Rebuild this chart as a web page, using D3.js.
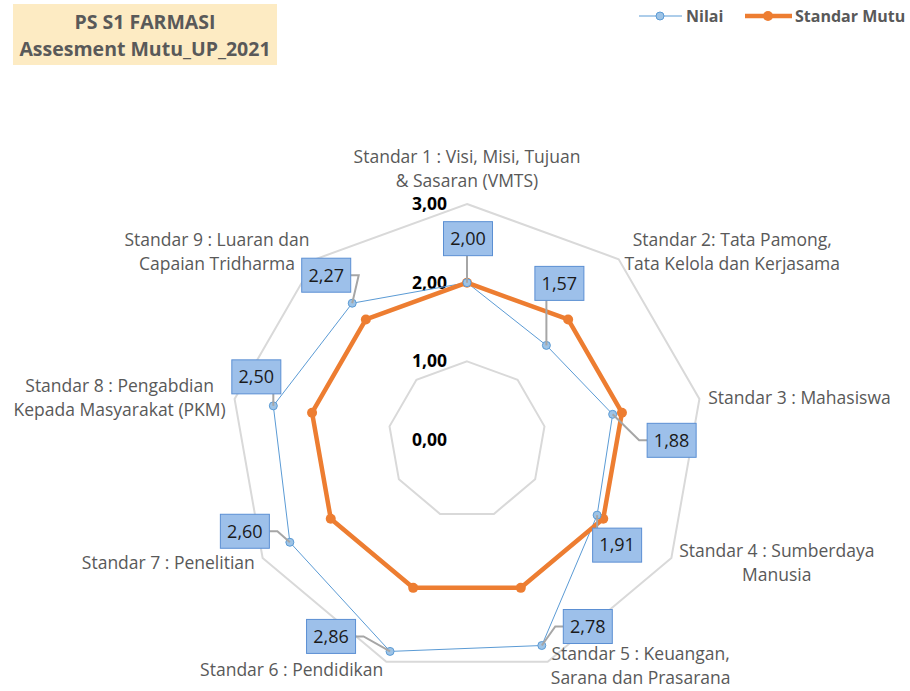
<!doctype html>
<html>
  <head>
    <meta charset="utf-8" />
    <title>PS S1 FARMASI radar</title>
    <script type="text/javascript" src="https://cdnjs.cloudflare.com/ajax/libs/d3/7.8.5/d3.min.js"></script>
    <style>
      body { margin:0; background:#fff; font-family:"Open Sans", sans-serif; }
      svg { display:block; }
    </style>
  </head>
  <body>
    <div id="chart"></div>
    <script type="text/javascript">

/*chart data*/
var categories = [
  ["Standar 1 : Visi, Misi, Tujuan", "& Sasaran (VMTS)"],
  ["Standar 2: Tata Pamong,", "Tata Kelola dan Kerjasama"],
  ["Standar 3 : Mahasiswa"],
  ["Standar 4 : Sumberdaya", "Manusia"],
  ["Standar 5 : Keuangan,", "Sarana dan Prasarana"],
  ["Standar 6 : Pendidikan"],
  ["Standar 7 : Penelitian"],
  ["Standar 8 : Pengabdian", "Kepada Masyarakat (PKM)"],
  ["Standar 9 : Luaran dan", "Capaian Tridharma"]
];
var nilai = [2.00, 1.57, 1.88, 1.91, 2.78, 2.86, 2.60, 2.50, 2.27];
var standarMutu = [2.00, 2.00, 2.00, 2.00, 2.00, 2.00, 2.00, 2.00, 2.00];
var ticks = [0, 1, 2, 3];
var seriesNames = ["Nilai", "Standar Mutu"];

/*where each data label box sits relative to its point*/
var labelOffsets = [[1,-44],[13,-62],[59,26],[20,30],[46,-19],[-59,-15],[-45,-11],[-17,-29],[-26,-28]];

var W = 910, H = 691;
var cx = 467, cy = 440;
var fmt = function(v) { return d3.format(".2f")(v).replace(".", ","); };

var svg = d3.select("#chart").append("svg").attr("width", W).attr("height", H);

var r = d3.scaleLinear().domain([0, 3]).range([0, 236]);
var angle = d3.scaleLinear().domain([0, categories.length]).range([0, 2 * Math.PI]);

function pt(i, v) {
  var a = angle(i);
  return [cx + r(v) * Math.sin(a), cy - r(v) * Math.cos(a)];
}

/*title*/
svg.append("rect").attr("x", 13).attr("y", 4).attr("width", 264).attr("height", 61).attr("fill", "#fdebc3");
svg.append("text").attr("x", 145).attr("y", 29).attr("text-anchor", "middle")
  .attr("font-size", 19.5).attr("font-weight", "bold").attr("fill", "#595959").text("PS S1 FARMASI");
svg.append("text").attr("x", 145).attr("y", 56).attr("text-anchor", "middle")
  .attr("font-size", 19.5).attr("font-weight", "bold").attr("fill", "#595959").text("Assesment Mutu_UP_2021");

/*grid polygons*/
var idx = d3.range(categories.length);
var line = d3.line().curve(d3.curveLinearClosed);
svg.append("g").selectAll("path").data(ticks.filter(function(t){ return t > 0; })).join("path")
  .attr("d", function(t) { return line(idx.map(function(i){ return pt(i, t); })); })
  .attr("fill", "none").attr("stroke", "#d9d9d9").attr("stroke-width", 2);

/*tick labels*/
svg.append("g").selectAll("text").data(ticks).join("text")
  .attr("x", cx - 20).attr("y", function(t){ return cy - r(t); }).attr("dy", "0.35em")
  .attr("text-anchor", "end").attr("font-size", 17.5).attr("font-weight", "bold").attr("fill", "#000")
  .text(fmt);

/*category labels*/
var lineH = 24;
svg.append("g").selectAll("text").data(categories).join("text")
  .attr("font-size", 17.5).attr("fill", "#595959")
  .each(function(lines, i) {
    var a = angle(i), s = Math.sin(a);
    var ax = cx + (r(3) + 9) * s, ay = cy - (r(3) + 9) * Math.cos(a);
    var t = d3.select(this);
    var spans = t.selectAll("tspan").data(lines).join("tspan").text(function(d){ return d; });
    if (Math.abs(s) < 0.1) {
      t.attr("text-anchor", "middle");
      spans.attr("x", ax).attr("y", function(d, k){ return ay - 8 - (lines.length - 1 - k) * lineH; });
    } else {
      /*measure block width so each line can be centred in it*/
      spans.attr("x", 0).attr("y", 0);
      var bw = d3.max(spans.nodes(), function(n){ return n.getComputedTextLength(); });
      var bx = s > 0 ? ax + bw / 2 : ax - bw / 2;
      /*keep the block inside the bottom edge*/
      var lastY = ay + (lines.length - 1) / 2 * lineH;
      if (lastY > H - 13) ay -= lastY - (H - 13);
      t.attr("text-anchor", "middle");
      spans.attr("x", bx).attr("y", function(d, k){ return ay + (k - (lines.length - 1) / 2) * lineH; })
        .attr("dy", "0.35em");
    }
  });

/*series lines*/
svg.append("path").attr("d", line(idx.map(function(i){ return pt(i, nilai[i]); })))
  .attr("fill", "none").attr("stroke", "#5b9bd5").attr("stroke-width", 1);
svg.append("path").attr("d", line(idx.map(function(i){ return pt(i, standarMutu[i]); })))
  .attr("fill", "none").attr("stroke", "#ed7d31").attr("stroke-width", 4.5).attr("stroke-linejoin", "round");

/*markers*/
svg.append("g").selectAll("circle").data(standarMutu).join("circle")
  .attr("cx", function(d, i){ return pt(i, d)[0]; }).attr("cy", function(d, i){ return pt(i, d)[1]; })
  .attr("r", 5).attr("fill", "#ed7d31");
svg.append("g").selectAll("circle").data(nilai).join("circle")
  .attr("cx", function(d, i){ return pt(i, d)[0]; }).attr("cy", function(d, i){ return pt(i, d)[1]; })
  .attr("r", 4).attr("fill", "#9dc3e6").attr("stroke", "#5b9bd5").attr("stroke-width", 1);

/*data labels with leader lines*/
var bwid = 49, bhei = 34;
var dl = svg.append("g");
nilai.forEach(function(v, i) {
  var p = pt(i, v);
  var bx = p[0] + labelOffsets[i][0], by = p[1] + labelOffsets[i][1];
  /*leader: from point to the nearest spot on the box edge*/
  var ex = Math.max(bx - bwid / 2, Math.min(p[0], bx + bwid / 2));
  var ey = Math.max(by - bhei / 2, Math.min(p[1], by + bhei / 2));
  if (Math.abs(p[0] - bx) > bwid / 2 && Math.abs(p[1] - by) < bhei * 1.5) {
    ey = by; /*horizontal stub into side of box*/
    var sx = p[0] > bx ? bx + bwid / 2 + 8 : bx - bwid / 2 - 8;
    dl.append("polyline").attr("points", [p, [sx, ey], [ex, ey]].join(" "))
      .attr("fill", "none").attr("stroke", "#a6a6a6").attr("stroke-width", 2);
  } else {
    dl.append("line").attr("x1", p[0]).attr("y1", p[1]).attr("x2", ex).attr("y2", ey)
      .attr("stroke", "#a6a6a6").attr("stroke-width", 2);
  }
  dl.append("rect").attr("x", bx - bwid / 2).attr("y", by - bhei / 2).attr("width", bwid).attr("height", bhei)
    .attr("fill", "#9dc0ea").attr("stroke", "#5b8fd3").attr("stroke-width", 1);
  dl.append("text").attr("x", bx).attr("y", by).attr("dy", "0.35em").attr("text-anchor", "middle")
    .attr("font-size", 18).attr("fill", "#1a1a1a").text(fmt(v));
});

/*legend*/
var lg = svg.append("g");
lg.append("line").attr("x1", 639).attr("x2", 682).attr("y1", 16).attr("y2", 16).attr("stroke", "#5b9bd5").attr("stroke-width", 1);
lg.append("circle").attr("cx", 660).attr("cy", 16).attr("r", 4).attr("fill", "#9dc3e6").attr("stroke", "#5b9bd5");
lg.append("text").attr("x", 686).attr("y", 16).attr("dy", "0.35em").attr("font-size", 16)
  .attr("font-weight", "bold").attr("fill", "#595959").text(seriesNames[0]);
lg.append("line").attr("x1", 745).attr("x2", 792).attr("y1", 16).attr("y2", 16).attr("stroke", "#ed7d31").attr("stroke-width", 4.5);
lg.append("circle").attr("cx", 768).attr("cy", 16).attr("r", 5).attr("fill", "#ed7d31");
lg.append("text").attr("x", 795).attr("y", 16).attr("dy", "0.35em").attr("font-size", 16)
  .attr("font-weight", "bold").attr("fill", "#595959").text(seriesNames[1]);

    </script>
  </body>
</html>
